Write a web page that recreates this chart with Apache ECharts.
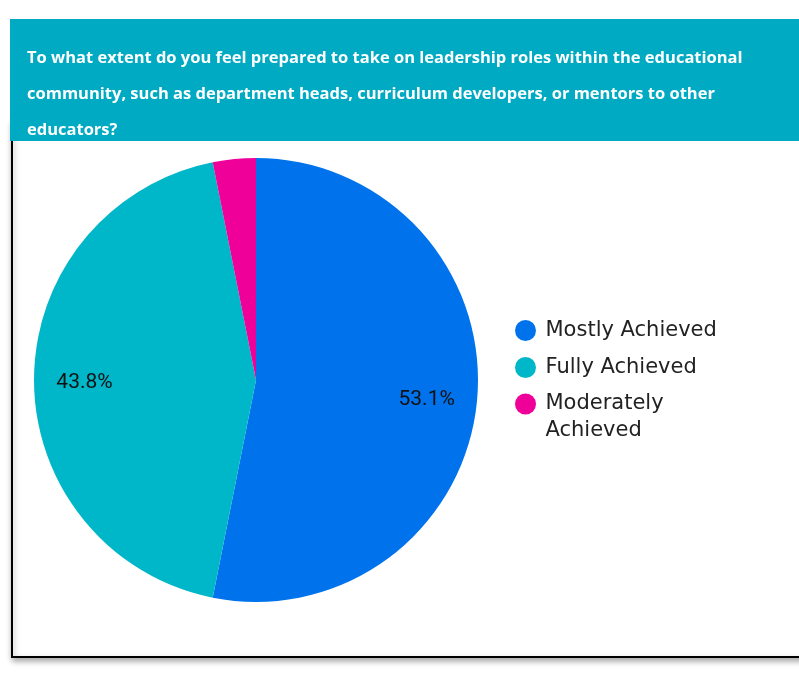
<!DOCTYPE html>
<html>
<head>
<meta charset="utf-8">
<script src="https://cdn.jsdelivr.net/npm/echarts@6/dist/echarts.min.js"></script>
<style>
html,body{margin:0;padding:0;background:#fff;}
#main{width:799px;height:675px;}
</style>
</head>
<body>
<div id="main"></div>
<script>
const titleText = "To what extent do you feel prepared to take on leadership roles within the educational\ncommunity, such as department heads, curriculum developers, or mentors to other\neducators?";
const categories = ["Mostly Achieved", "Fully Achieved", "Moderately Achieved"];
const values = [17, 14, 1];
const colors = ["#0073EC", "#00B6C9", "#EE0099"];

const chart = echarts.init(document.getElementById('main'), null, {renderer: 'canvas'});
const data = categories.map((c, i) => ({name: c, value: values[i], itemStyle: {color: colors[i]}}));
const total = values.reduce((a, b) => a + b, 0);

const legendBase = {
  orient: 'vertical',
  left: 515,
  padding: 0,
  icon: 'circle',
  itemWidth: 30,
  itemHeight: 21,
  itemGap: 10,
  formatter: name => name === categories[2]
    ? '\n{m|' + name.split(' ').join('}\n{m|') + '}'
    : name,
  textStyle: {
    fontFamily: 'DejaVu Sans',
    fontSize: 21,
    color: '#222',
    lineHeight: 27,
    rich: {
      m: {fontFamily: 'DejaVu Sans', fontSize: 21, color: '#222', lineHeight: 27}
    }
  }
};

chart.setOption({
  animation: false,
  title: {
    text: titleText,
    left: 27,
    top: 40,
    padding: 0,
    textStyle: {
      color: '#fff',
      fontFamily: 'Open Sans',
      fontWeight: 'bold',
      fontSize: 16.5,
      lineHeight: 36
    },
    z: 20
  },
  graphic: [
    {
      type: 'rect',
      z: 1,
      shape: {x: 12, y: 120, width: 800, height: 537},
      style: {fill: '#fff', stroke: '#000', lineWidth: 2, shadowBlur: 6, shadowOffsetX: 1, shadowOffsetY: 3, shadowColor: 'rgba(0,0,0,0.35)'}
    },
    {
      type: 'rect',
      z: 2,
      shape: {x: 10, y: 19, width: 800, height: 122},
      style: {fill: '#00AAC2'}
    }
  ],
  legend: [
    Object.assign({}, legendBase, {top: 317, data: categories.slice(0, 2)}),
    Object.assign({}, legendBase, {top: 363.5, data: categories.slice(2)})
  ],
  series: [
    {
      type: 'pie',
      center: [256, 380],
      radius: [0, 222],
      startAngle: 90,
      clockwise: true,
      label: {show: false},
      labelLine: {show: false},
      emphasis: {disabled: true},
      data: data,
      z: 5
    },
    {
      type: 'pie',
      center: [256, 380],
      radius: [115, 222],
      startAngle: 90,
      clockwise: true,
      silent: true,
      legendHoverLink: false,
      itemStyle: {color: 'transparent'},
      label: {
        show: true,
        position: 'inside',
        fontFamily: 'Roboto',
        fontSize: 21,
        color: '#111',
        offset: [0, 3],
        formatter: p => (p.value / total * 100 < 5 ? '' : (p.value / total * 100).toFixed(1) + '%')
      },
      labelLine: {show: false},
      emphasis: {disabled: true},
      data: categories.map((c, i) => ({name: c + ' ', value: values[i], itemStyle: {color: 'transparent'}})),
      z: 6
    }
  ]
});
</script>
</body>
</html>
